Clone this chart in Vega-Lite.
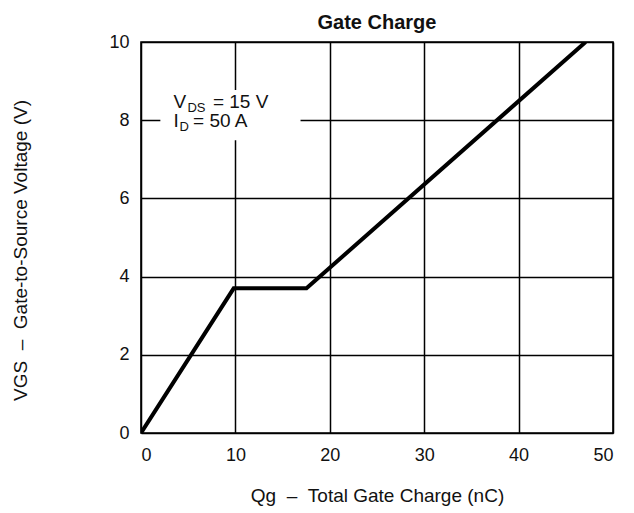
{
  "$schema": "https://vega.github.io/schema/vega-lite/v6.json",
  "width": 472,
  "height": 391,
  "autosize": {"type": "none"},
  "padding": {"left": 141, "top": 42, "right": 21, "bottom": 80},
  "background": "#ffffff",
  "title": {
    "text": "Gate Charge",
    "font": "Liberation Sans",
    "fontSize": 20,
    "fontWeight": "bold",
    "color": "#111111",
    "anchor": "middle",
    "offset": 0
  },
  "config": {
    "view": {"stroke": "#000000", "strokeWidth": 1.6},
    "axis": {
      "labelFont": "Liberation Sans",
      "labelFontSize": 18,
      "labelColor": "#111111",
      "titleFont": "Liberation Sans",
      "titleFontSize": 19,
      "titleFontWeight": "normal",
      "titleColor": "#111111",
      "grid": true,
      "gridColor": "#000000",
      "gridWidth": 1.5,
      "gridOpacity": 1,
      "ticks": false,
      "domain": false
    }
  },
  "layer": [
    {
      "data": {"values": [{"q": 2.05, "q2": 16.9, "v": 7.49, "v2": 8.77}]},
      "mark": {"type": "rect", "fill": "#ffffff"},
      "encoding": {
        "x": {"field": "q", "type": "quantitative", "scale": {"domain": [0, 50], "nice": false},
          "title": "Qg\u00a0\u00a0–\u00a0\u00a0Total Gate Charge (nC)",
          "axis": {"values": [0, 10, 20, 30, 40, 50], "labelPadding": 13, "titleX": 236, "titleY": 68, "titleBaseline": "alphabetic", "titleAnchor": "middle"}},
        "x2": {"field": "q2"},
        "y": {"field": "v", "type": "quantitative", "scale": {"domain": [0, 10], "nice": false},
          "title": "VGS\u00a0\u00a0–\u00a0\u00a0Gate-to-Source Voltage (V)",
          "axis": {"values": [0, 2, 4, 6, 8, 10], "labelPadding": 12, "titleAngle": -90, "titleX": -121, "titleY": 208, "titleBaseline": "middle", "titleAlign": "center"}},
        "y2": {"field": "v2"}
      }
    },
    {
      "data": {"values": [
        {"q": 0, "v": 0},
        {"q": 9.82, "v": 3.7},
        {"q": 17.53, "v": 3.7},
        {"q": 47.1, "v": 10}
      ]},
      "mark": {"type": "line", "color": "#000000", "strokeWidth": 4, "strokeJoin": "miter", "clip": true},
      "encoding": {
        "x": {"field": "q", "type": "quantitative"},
        "y": {"field": "v", "type": "quantitative"}
      }
    },
    {
      "data": {"values": [{"q": 3.43, "v": 8.31, "label": "V"}]},
      "mark": {"type": "text", "font": "Liberation Sans", "fontSize": 19, "align": "left", "baseline": "alphabetic", "color": "#111111"},
      "encoding": {"x": {"field": "q", "type": "quantitative"}, "y": {"field": "v", "type": "quantitative"}, "text": {"field": "label"}}
    },
    {
      "data": {"values": [{"q": 3.43, "v": 8.31, "label": "DS"}]},
      "mark": {"type": "text", "font": "Liberation Sans", "fontSize": 13, "align": "left", "baseline": "alphabetic", "dx": 14, "dy": 4, "color": "#111111"},
      "encoding": {"x": {"field": "q", "type": "quantitative"}, "y": {"field": "v", "type": "quantitative"}, "text": {"field": "label"}}
    },
    {
      "data": {"values": [{"q": 3.43, "v": 8.31, "label": "= 15 V"}]},
      "mark": {"type": "text", "font": "Liberation Sans", "fontSize": 19, "align": "left", "baseline": "alphabetic", "dx": 39.5, "color": "#111111"},
      "encoding": {"x": {"field": "q", "type": "quantitative"}, "y": {"field": "v", "type": "quantitative"}, "text": {"field": "label"}}
    },
    {
      "data": {"values": [{"q": 3.43, "v": 7.83, "label": "I"}]},
      "mark": {"type": "text", "font": "Liberation Sans", "fontSize": 19, "align": "left", "baseline": "alphabetic", "color": "#111111"},
      "encoding": {"x": {"field": "q", "type": "quantitative"}, "y": {"field": "v", "type": "quantitative"}, "text": {"field": "label"}}
    },
    {
      "data": {"values": [{"q": 3.43, "v": 7.83, "label": "D"}]},
      "mark": {"type": "text", "font": "Liberation Sans", "fontSize": 13, "align": "left", "baseline": "alphabetic", "dx": 6, "dy": 4, "color": "#111111"},
      "encoding": {"x": {"field": "q", "type": "quantitative"}, "y": {"field": "v", "type": "quantitative"}, "text": {"field": "label"}}
    },
    {
      "data": {"values": [{"q": 3.43, "v": 7.83, "label": "= 50 A"}]},
      "mark": {"type": "text", "font": "Liberation Sans", "fontSize": 19, "align": "left", "baseline": "alphabetic", "dx": 19.7, "color": "#111111"},
      "encoding": {"x": {"field": "q", "type": "quantitative"}, "y": {"field": "v", "type": "quantitative"}, "text": {"field": "label"}}
    }
  ]
}
